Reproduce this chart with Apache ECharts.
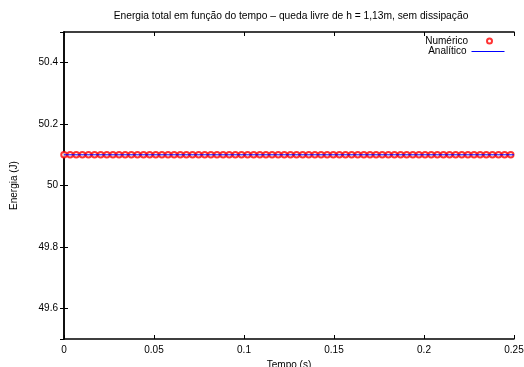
<!DOCTYPE html>
<html>
<head>
<meta charset="utf-8">
<script src="https://cdn.jsdelivr.net/npm/echarts@6/dist/echarts.min.js"></script>
<style>
html,body{margin:0;padding:0;background:#fff;}
#chart{width:524px;height:367px;}
</style>
</head>
<body>
<div id="chart"></div>
<script>
const titleText = 'Energia total em função do tempo – queda livre de h = 1,13m, sem dissipação';
const xName = 'Tempo (s)';
const yName = 'Energia (J)';
const seriesNames = ['Numérico', 'Analítico'];

const numericTime = [0, 0.0034, 0.0068, 0.0102, 0.0136, 0.017, 0.0204, 0.0238, 0.0272, 0.0306,
  0.034, 0.0374, 0.0408, 0.0442, 0.0476, 0.051, 0.0544, 0.0578, 0.0612, 0.0646,
  0.068, 0.0714, 0.0748, 0.0782, 0.0816, 0.085, 0.0884, 0.0918, 0.0952, 0.0986,
  0.102, 0.1054, 0.1088, 0.1122, 0.1156, 0.119, 0.1224, 0.1258, 0.1292, 0.1326,
  0.136, 0.1394, 0.1428, 0.1462, 0.1496, 0.153, 0.1564, 0.1598, 0.1632, 0.1666,
  0.17, 0.1734, 0.1768, 0.1802, 0.1836, 0.187, 0.1904, 0.1938, 0.1972, 0.2006,
  0.204, 0.2074, 0.2108, 0.2142, 0.2176, 0.221, 0.2244, 0.2278, 0.2312, 0.2346,
  0.238, 0.2414, 0.2448, 0.2482];
const numericEnergy = [50.1, 50.1, 50.1, 50.1, 50.1, 50.1, 50.1, 50.1, 50.1, 50.1,
  50.1, 50.1, 50.1, 50.1, 50.1, 50.1, 50.1, 50.1, 50.1, 50.1,
  50.1, 50.1, 50.1, 50.1, 50.1, 50.1, 50.1, 50.1, 50.1, 50.1,
  50.1, 50.1, 50.1, 50.1, 50.1, 50.1, 50.1, 50.1, 50.1, 50.1,
  50.1, 50.1, 50.1, 50.1, 50.1, 50.1, 50.1, 50.1, 50.1, 50.1,
  50.1, 50.1, 50.1, 50.1, 50.1, 50.1, 50.1, 50.1, 50.1, 50.1,
  50.1, 50.1, 50.1, 50.1, 50.1, 50.1, 50.1, 50.1, 50.1, 50.1,
  50.1, 50.1, 50.1, 50.1];
const analyticTime = [0, 0.25];
const analyticEnergy = [50.1, 50.1];

const xTicks = [0, 0.05, 0.1, 0.15, 0.2, 0.25];
const yTicks = [49.6, 49.8, 50, 50.2, 50.4];

const chart = echarts.init(document.getElementById('chart'), null, {renderer: 'canvas'});
const font = 'Liberation Sans, Arial, Helvetica, sans-serif';
const lineStyle = {color: '#000', width: 1.5};
const tickCommon = {show: true, inside: true, length: 4, lineStyle: {color: '#000', width: 1}};
const legendText = {fontSize: 10, color: '#000', fontFamily: font};
const isTick = (list, v) => list.some(t => Math.abs(t - v) < 1e-9);

const option = {
  animation: false,
  backgroundColor: '#fff',
  textStyle: {fontFamily: font},
  title: {
    text: titleText,
    left: 286, top: 6,
    textAlign: 'center',
    textStyle: {fontSize: 10.25, fontWeight: 'normal', color: '#000', fontFamily: font}
  },
  legend: [{
    orient: 'vertical',
    right: 26, top: 31,
    align: 'right',
    itemWidth: 33, itemHeight: 5,
    textStyle: legendText,
    data: [{name: seriesNames[0], icon: 'emptyCircle'}]
  }, {
    orient: 'vertical',
    right: 14, top: 41.5,
    align: 'right',
    itemWidth: 33, itemHeight: 1,
    textStyle: legendText,
    lineStyle: {color: '#0000ff', width: 1},
    data: [{name: seriesNames[1], icon: 'inherit'}]
  }],
  grid: {left: 64, right: 10, top: 32, bottom: 28, containLabel: false, outerBoundsMode: 'none'},
  xAxis: [{
    type: 'value', min: 0, max: 0.25, interval: 0.05,
    position: 'bottom',
    name: xName, nameLocation: 'middle', nameGap: 21,
    nameTextStyle: {fontSize: 10, color: '#000', fontFamily: font},
    axisLine: {show: true, lineStyle: lineStyle},
    axisTick: tickCommon,
    axisLabel: {fontSize: 10, color: '#000', margin: 6, fontFamily: font,
      formatter: v => isTick(xTicks, v) ? String(+v.toFixed(2)) : ''},
    splitLine: {show: false}
  }, {
    type: 'value', min: 0, max: 0.25, interval: 0.05,
    position: 'top',
    axisLine: {show: true, lineStyle: lineStyle},
    axisTick: tickCommon,
    axisLabel: {show: false},
    splitLine: {show: false}
  }],
  yAxis: [{
    type: 'value', min: 49.5, max: 50.5, splitNumber: 5,
    position: 'left',
    name: yName, nameLocation: 'middle', nameGap: 45,
    nameTextStyle: {fontSize: 10, color: '#000', fontFamily: font},
    axisLine: {show: true, lineStyle: lineStyle},
    axisTick: tickCommon,
    axisLabel: {fontSize: 10, color: '#000', margin: 6, fontFamily: font,
      showMinLabel: false, showMaxLabel: false,
      formatter: v => isTick(yTicks, v) ? String(+v.toFixed(1)) : ''},
    splitLine: {show: false}
  }, {
    type: 'value', min: 49.5, max: 50.5, splitNumber: 5,
    position: 'right',
    axisLine: {show: true, lineStyle: lineStyle},
    axisTick: tickCommon,
    axisLabel: {show: false},
    splitLine: {show: false}
  }],
  series: [{
    name: seriesNames[0],
    type: 'scatter',
    xAxisIndex: 0, yAxisIndex: 0,
    symbol: 'emptyCircle',
    symbolSize: 5.5,
    itemStyle: {color: '#ff0000', borderWidth: 1},
    data: numericTime.map((t, i) => [t, numericEnergy[i]]),
    z: 2
  }, {
    name: seriesNames[1],
    type: 'line',
    xAxisIndex: 0, yAxisIndex: 0,
    showSymbol: false,
    symbol: 'none',
    color: '#0000ff',
    lineStyle: {color: '#0000ff', width: 1},
    itemStyle: {color: '#0000ff'},
    data: analyticTime.map((t, i) => [t, analyticEnergy[i]]),
    z: 3
  }]
};
chart.setOption(option);
</script>
</body>
</html>
